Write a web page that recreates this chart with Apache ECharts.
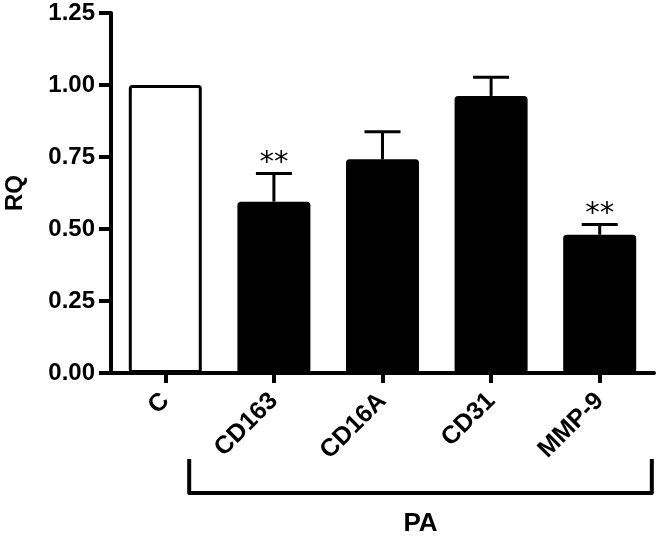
<!DOCTYPE html>
<html><head><meta charset="utf-8">
<script src="https://cdn.jsdelivr.net/npm/echarts@6/dist/echarts.min.js"></script>
<style>html,body{margin:0;padding:0;background:#fff}#c{width:657px;height:536px}</style>
</head><body><div id="c"></div>
<script>
const categories = ['C', 'CD163', 'CD16A', 'CD31', 'MMP-9'];
const rqMean = [1.00, 0.595, 0.742, 0.962, 0.48];
const rqErrorTop = [null, 0.693, 0.838, 1.027, 0.516];
const significance = ['', '**', '', '', '**'];
const barFill = ['#ffffff', '#000000', '#000000', '#000000', '#000000'];
const yMin = 0, yMax = 1.25, yStep = 0.25;
const groupLabel = 'PA';
const groupFrom = 'CD163', groupTo = 'MMP-9';
const FONT = '"Liberation Sans", Arial, Helvetica, sans-serif';

const chart = echarts.init(document.getElementById('c'), null, {renderer: 'canvas'});

const errData = [];
rqMean.forEach((v, i) => { if (rqErrorTop[i] != null) errData.push([i, v, rqErrorTop[i]]); });

const option = {
  backgroundColor: '#fff',
  animation: false,
  grid: {left: 111, right: 3, top: 13, bottom: 163, containLabel: false, outerBoundsMode: 'none'},
  xAxis: {
    type: 'category', data: categories,
    axisLine: {show: true, lineStyle: {color: '#000', width: 4}},
    axisTick: {show: true, alignWithLabel: true, length: 10, lineStyle: {color: '#000', width: 4}},
    axisLabel: {show: true, interval: 0, rotate: 45, color: '#000', fontFamily: FONT, fontWeight: 'bold', fontSize: 25, margin: 24},
    splitLine: {show: false}
  },
  yAxis: {
    type: 'value', min: yMin, max: yMax, interval: yStep,
    name: 'RQ', nameLocation: 'middle', nameGap: 84,
    nameTextStyle: {color: '#000', fontFamily: FONT, fontWeight: 'bold', fontSize: 24},
    axisLine: {show: true, lineStyle: {color: '#000', width: 4}},
    axisTick: {show: true, length: 12, lineStyle: {color: '#000', width: 4}},
    axisLabel: {show: true, color: '#000', fontFamily: FONT, fontWeight: 'bold', fontSize: 24, margin: 16,
      formatter: v => v.toFixed(2)},
    splitLine: {show: false}
  },
  series: [
    {
      type: 'bar', barWidth: 73,
      data: rqMean.map((v, i) => ({value: v, itemStyle: {color: barFill[i]}})),
      itemStyle: {borderColor: '#000', borderWidth: 3, borderRadius: 2},
      emphasis: {disabled: true}
    },
    {
      type: 'custom', z: 5,
      encode: {x: 0, y: 2},
      data: errData,
      renderItem: function (params, api) {
        const idx = api.value(0), mean = api.value(1), top = api.value(2);
        const pTop = api.coord([idx, top]);
        const pMean = api.coord([idx, mean]);
        const children = [
          {type: 'line', shape: {x1: pTop[0], y1: pMean[1], x2: pTop[0], y2: pTop[1]}, style: {stroke: '#000', lineWidth: 3}},
          {type: 'line', shape: {x1: pTop[0] - 18, y1: pTop[1], x2: pTop[0] + 18, y2: pTop[1]}, style: {stroke: '#000', lineWidth: 3}}
        ];
        const mark = significance[idx];
        if (mark) {
          children.push({type: 'text', x: pTop[0], y: pTop[1] - 10,
            style: {text: mark, fill: '#000', font: '29px "DejaVu Sans"', align: 'center', verticalAlign: 'middle'}});
        }
        return {type: 'group', children: children};
      }
    }
  ]
};
chart.setOption(option);

const c0 = chart.convertToPixel({xAxisIndex: 0}, 0);
const c1 = chart.convertToPixel({xAxisIndex: 0}, 1);
const step = c1 - c0;
const bl = chart.convertToPixel({xAxisIndex: 0}, categories.indexOf(groupFrom)) - step * 0.78;
const br = chart.convertToPixel({xAxisIndex: 0}, categories.indexOf(groupTo)) + step * 0.48;
const yBase = chart.convertToPixel({yAxisIndex: 0}, 0);
chart.setOption({
  graphic: [
    {type: 'polyline', shape: {points: [[bl, yBase + 86], [bl, yBase + 120], [br, yBase + 120], [br, yBase + 86]]},
      style: {stroke: '#000', lineWidth: 4, fill: null, lineJoin: 'round'}},
    {type: 'text', x: (bl + br) / 2, y: yBase + 151,
      style: {text: groupLabel, fill: '#000', font: 'bold 26px "Liberation Sans", Arial, sans-serif', align: 'center', verticalAlign: 'middle'}}
  ]
});
</script>
</body></html>
